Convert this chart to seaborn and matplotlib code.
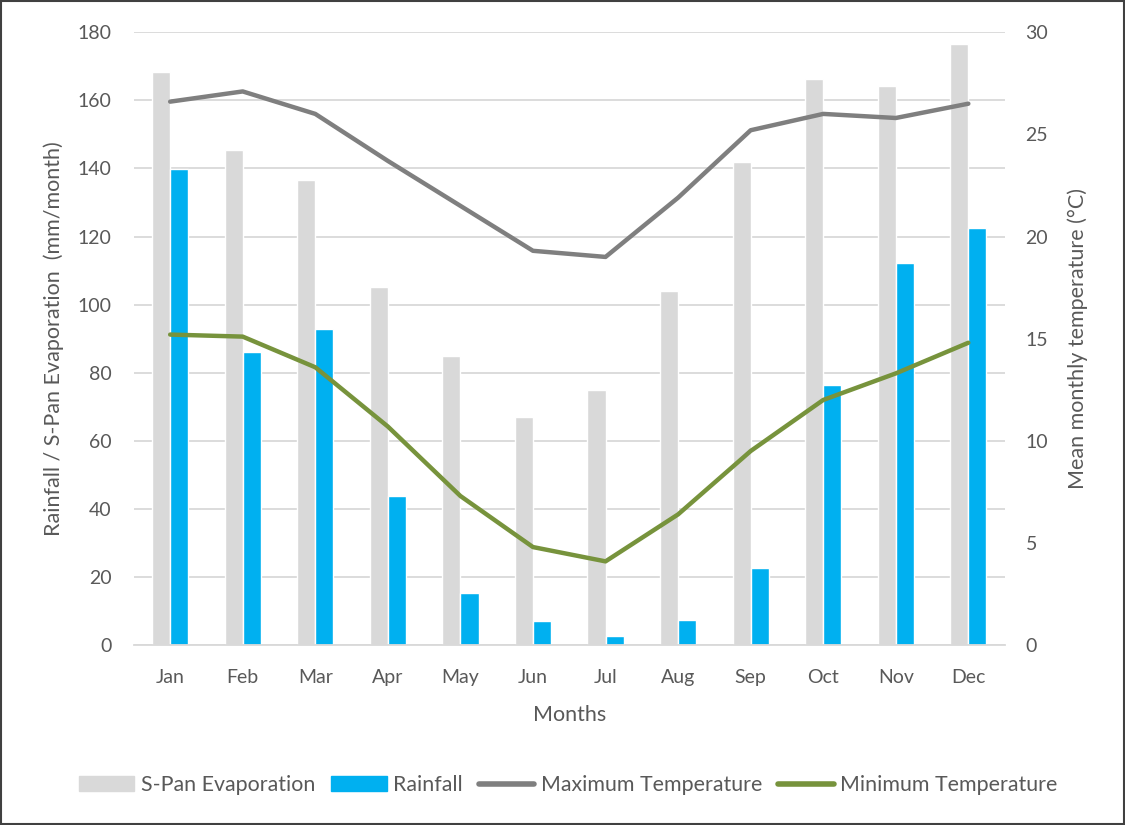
#!/usr/bin/env python3

import numpy as np
import pandas as pd
import matplotlib
matplotlib.use("Agg")
import matplotlib.pyplot as plt
from matplotlib.patches import Rectangle
import seaborn as sns

# Monthly climate values
months = ['Jan', 'Feb', 'Mar', 'Apr', 'May', 'Jun', 'Jul', 'Aug', 'Sep', 'Oct', 'Nov', 'Dec']
evaporation = [168.3, 145.3, 136.7, 105.2, 85.0, 67.0, 74.8, 103.9, 142.0, 166.2, 164.1, 176.6]
rainfall = [139.8, 86.1, 92.8, 43.9, 15.2, 7.0, 2.6, 7.3, 22.6, 76.3, 112.3, 122.6]
max_temp = [26.6, 27.1, 26.0, 23.7, 21.5, 19.3, 19.0, 21.9, 25.2, 26.0, 25.8, 26.5]
min_temp = [15.2, 15.1, 13.6, 10.7, 7.3, 4.8, 4.1, 6.4, 9.5, 12.0, 13.3, 14.8]

# Styling
sns.set_style("white")
plt.rcParams['font.family'] = ['Lato', 'DejaVu Sans']
TEXT = '#595959'
GRID = '#d9d9d9'
C_EVAP = '#d9d9d9'
C_RAIN = '#00b0f0'
C_MAX = '#7f7f7f'
C_MIN = '#77933c'

# Long-form table for the bars
df_bars = pd.DataFrame({
    'Month': months * 2,
    'Value': evaporation + rainfall,
    'Series': ['S-Pan Evaporation'] * 12 + ['Rainfall'] * 12,
})
df_temp = pd.DataFrame({'x': np.arange(len(months)), 'Max': max_temp, 'Min': min_temp})

fig = plt.figure(figsize=(11.25, 8.25), dpi=100)
ax = fig.add_axes([0.119, 0.218, 0.774, 0.743])

sns.barplot(data=df_bars, x='Month', y='Value', hue='Series', order=months,
            palette={'S-Pan Evaporation': C_EVAP, 'Rainfall': C_RAIN},
            width=0.5, gap=0, saturation=1, ax=ax, legend=False)

ax.set_ylim(0, 180)
ax.set_yticks(np.arange(0, 181, 20))
ax.set_xlim(-0.5, 11.5)
ax.grid(axis='y', color=GRID, linewidth=1.3)
ax.set_axisbelow(True)
for s in ['top', 'left', 'right']:
    ax.spines[s].set_visible(False)
ax.spines['bottom'].set_color(GRID)
ax.spines['bottom'].set_linewidth(1.3)
ax.tick_params(axis='x', length=0, labelsize=14, colors=TEXT, pad=17)
ax.tick_params(axis='y', length=0, labelsize=14, colors=TEXT, pad=16)
ax.set_xlabel('Months', fontsize=15.5, color=TEXT, labelpad=14)
ax.set_ylabel('Rainfall / S-Pan Evaporation  (mm/month)', fontsize=15.5, color=TEXT, labelpad=10)

# Temperatures on the secondary axis
ax2 = ax.twinx()
sns.lineplot(data=df_temp, x='x', y='Max', color=C_MAX, linewidth=3.2, ax=ax2,
             solid_capstyle='round')
sns.lineplot(data=df_temp, x='x', y='Min', color=C_MIN, linewidth=3.2, ax=ax2,
             solid_capstyle='round')
ax2.set_ylim(0, 30)
ax2.set_yticks(np.arange(0, 31, 5))
ax2.set_xlim(-0.5, 11.5)
for s in ['top', 'left', 'right', 'bottom']:
    ax2.spines[s].set_visible(False)
ax2.tick_params(axis='y', length=0, labelsize=14, colors=TEXT, pad=15)
ax2.set_ylabel('Mean monthly temperature (°C)', fontsize=15.5, color=TEXT, labelpad=14)
ax2.set_xlabel('')

# Legend along the bottom
handles = [
    Rectangle((0, 0), 1, 1, color=C_EVAP),
    Rectangle((0, 0), 1, 1, color=C_RAIN),
    plt.Line2D([0], [0], color=C_MAX, linewidth=4, solid_capstyle='round'),
    plt.Line2D([0], [0], color=C_MIN, linewidth=4, solid_capstyle='round'),
]
labels = ['S-Pan Evaporation', 'Rainfall', 'Maximum Temperature', 'Minimum Temperature']
leg = fig.legend(handles, labels, loc='center', bbox_to_anchor=(0.505, 0.048), ncol=4,
                 frameon=False, fontsize=15.4, handlelength=2.6, handletextpad=0.3,
                 columnspacing=0.75)
for t in leg.get_texts():
    t.set_color(TEXT)

# Outer frame
fig.patches.append(Rectangle((0.001, 0.001), 0.998, 0.998, transform=fig.transFigure,
                             fill=False, edgecolor='#404040', linewidth=1.5))

fig.savefig('out.png', dpi=100)
